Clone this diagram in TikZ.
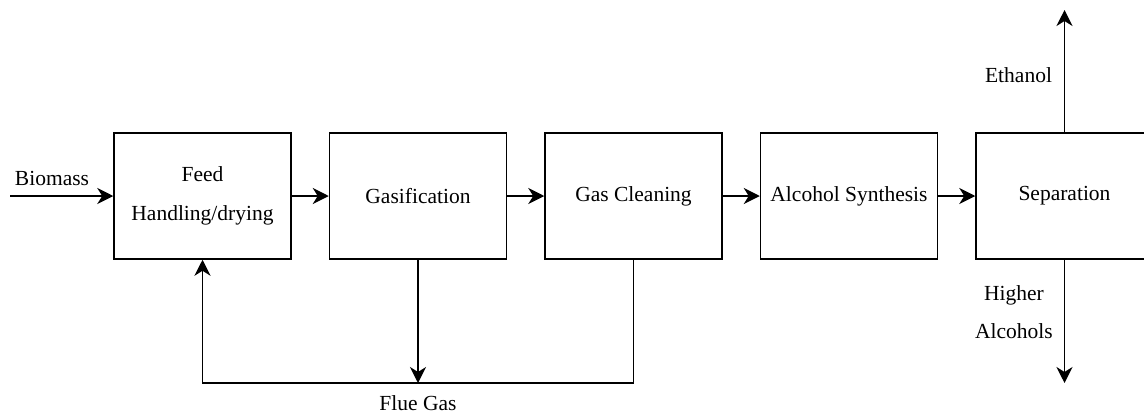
\documentclass[tikz,border=0pt]{standalone}
\usepackage{fontspec}
\setmainfont{Liberation Serif}
\usetikzlibrary{positioning,arrows.meta}
\tikzset{process/.style={draw, line width=1.5pt,
    minimum width=177pt, minimum height=126pt,
    align=center, font=\fontsize{21.5}{39}\selectfont},
    flow/.style={line width=1.5pt, -{Stealth[length=16pt,width=16pt,inset=5pt]}},
    stream/.style={align=center, font=\fontsize{21.5}{38}\selectfont},
    node distance=37pt,
    }

\begin{document}
\begin{tikzpicture}[x=1pt,y=1pt]
\clip (0,0) rectangle (1144,-418);
% main line
\node[process] (feed) at (202.5,-196) {Feed\\Handling/drying};
\node[process, right=of feed] (gasif) {Gasification};
\node[process, right=of gasif] (clean) {Gas Cleaning};
\node[process, right=of clean] (synth) {Alcohol Synthesis};
\node[process, right=of synth] (sep) {Separation};
\coordinate (bio) at (10,-196);
\node[stream, anchor=base] (biomass) at (52,-185) {Biomass};
\draw[flow] (bio) -- (feed);
\draw[flow] (feed) -- (gasif);
\draw[flow] (gasif) -- (clean);
\draw[flow] (clean) -- (synth);
\draw[flow] (synth) -- (sep);
% flue gas loop
\coordinate (flue) at (gasif.south |- 0,-383);
\draw[flow] (gasif.south) -- (flue);
\draw[flow] (clean.south) |- (flue) -| (feed.south);
\node[stream, below=9pt of flue] (fluegas) {Flue Gas};
% products
\coordinate (eth) at (sep.north |- 0,-10);
\coordinate (higher) at (sep.south |- 0,-383);
\draw[flow] (sep.north) -- (eth);
\draw[flow] (sep.south) -- (higher);
\node[stream, anchor=base east] (ethanol) at ([xshift=-9pt]sep.north |- 0,-82) {Ethanol};
\node[stream] (alcohols) at (1014,-312) {Higher\\Alcohols};
\end{tikzpicture}
\end{document}
